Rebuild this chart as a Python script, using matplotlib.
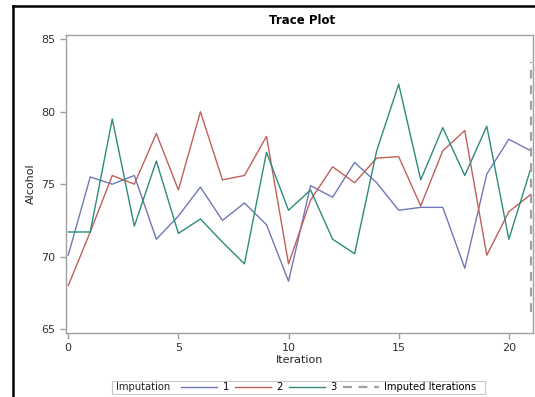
import matplotlib
matplotlib.use("Agg")
import matplotlib.pyplot as plt
from matplotlib.lines import Line2D
from matplotlib.patches import Rectangle

iterations = list(range(22))
imp1 = [70.1, 75.5, 75.0, 75.6, 71.2, 72.8, 74.8, 72.5, 73.7, 72.2, 68.3,
        74.9, 74.1, 76.5, 75.1, 73.2, 73.4, 73.4, 69.2, 75.7, 78.1, 77.3]
imp2 = [68.0, 71.7, 75.6, 75.0, 78.5, 74.6, 80.0, 75.3, 75.6, 78.3, 69.5,
        73.9, 76.2, 75.1, 76.8, 76.9, 73.5, 77.3, 78.7, 70.1, 73.1, 74.3]
imp3 = [71.7, 71.7, 79.5, 72.1, 76.6, 71.6, 72.6, 71.0, 69.5, 77.2, 73.2,
        74.6, 71.2, 70.2, 77.3, 81.9, 75.3, 78.9, 75.6, 79.0, 71.2, 76.1]
imputed_iter = 21
imputed_range = [66.2, 83.4]

colors = ['#7078B8', '#C0605A', '#2E8B7A']
grey = '#A0A0A0'
W, H = 535, 397

fig = plt.figure(figsize=(5.35, 3.97), dpi=100)
ax = fig.add_axes([0.1234, 0.162, 0.873, 0.750])

for vals, c, lab in zip([imp1, imp2, imp3], colors, ['1', '2', '3']):
    ax.plot(iterations, vals, color=c, linewidth=1.0, label=lab)
ax.plot([imputed_iter, imputed_iter], imputed_range, color=grey, linewidth=1.6,
        linestyle=(0, (4, 3)))

ax.set_xlim(-0.1, 21.1)
ax.set_ylim(64.75, 85.3)
ax.set_xticks([0, 5, 10, 15, 20])
ax.set_yticks([65, 70, 75, 80, 85])
for s in ax.spines.values():
    s.set_color(grey)
    s.set_linewidth(1.0)
ax.tick_params(colors=grey, labelcolor='#333333', labelsize=8, length=4, width=1)
ax.set_xlabel('Iteration', fontsize=8, color='#222222', labelpad=1.5)
ax.set_ylabel('Alcohol', fontsize=8, color='#222222', labelpad=4)

fig.text(0.564, 0.948, 'Trace Plot', ha='center', va='center', fontsize=8.5,
         fontweight='bold')

# legend: box + "Imputation" drawn by hand, entries via legend
fig.add_artist(Rectangle((111.5 / W, 1 - 394 / H), 373.5 / W, 13 / H,
                         transform=fig.transFigure, fill=False,
                         edgecolor='#C8C8C8', linewidth=0.8))
fig.text(116 / W, 1 - 387.5 / H, 'Imputation', ha='left', va='center',
         fontsize=7.2, color='#222222')
handles = [Line2D([], [], color=c, linewidth=1.0) for c in colors]
handles += [Line2D([], [], color=grey, linewidth=1.6, linestyle=(0, (4, 3)))]
labels = ['1', '2', '3', 'Imputed Iterations']
leg = fig.legend(handles, labels, loc='center left',
                 bbox_to_anchor=(181 / W, 1 - 387.5 / H),
                 ncol=4, fontsize=7.2, frameon=False, handlelength=3.6,
                 handletextpad=0.55, columnspacing=0.6, borderpad=0,
                 borderaxespad=0)

# page border lines
fig.add_artist(Line2D([13 / W, 13 / W], [0, 1 - 6 / H], color='black', linewidth=1.8))
fig.add_artist(Line2D([13 / W, 1], [1 - 6 / H, 1 - 6 / H], color='black', linewidth=1.8))

fig.savefig('out.png', dpi=100)
